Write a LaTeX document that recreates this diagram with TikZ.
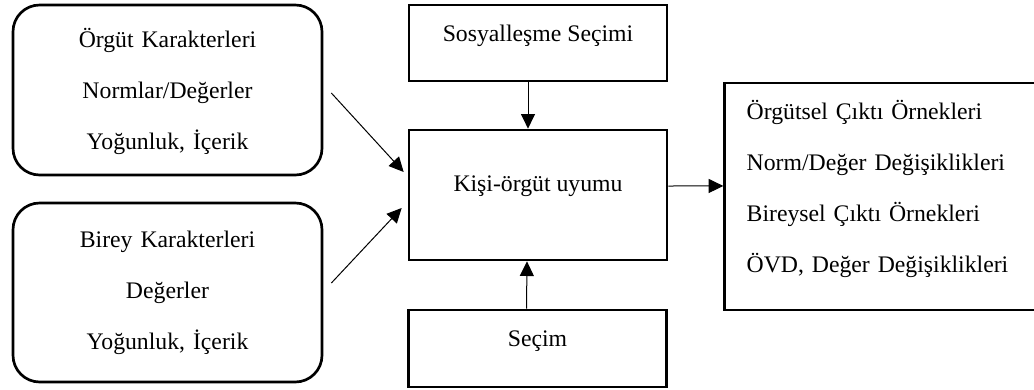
\documentclass[tikz,border=0pt]{standalone}
\usepackage{fontspec}
\setmainfont{Liberation Serif}
\usetikzlibrary{arrows.meta}
\newcommand{\boxFont}[0]{\fontsize{17.8}{38.3}\selectfont}

\begin{document}
\begin{tikzpicture}[x=0.75pt, y=-0.75pt, >={Triangle[length=11pt,width=10.5pt]}]
  \tikzset{plain box/.style={draw, line width=2pt, align=center, font=\boxFont, inner sep=0pt, text height=12pt},
    round box/.style={plain box, rounded corners=20pt, minimum width=231.75pt, text width=200pt},
    mid box/.style={plain box, minimum width=193.5pt},
    link/.style={->, line width=0.75pt}}
  \useasboundingbox (0,0) rectangle (1034,389);
  % left side
  \node[round box, minimum height=127.5pt, text depth=75.4pt] (org) at (167.5,90)
    {Örgüt Karakterleri\\Normlar/Değerler\\Yoğunluk, İçerik};
  \node[round box, minimum height=134.25pt, text depth=80.2pt] (birey) at (167.5,292.5)
    {Birey Karakterleri\\Değerler\\Yoğunluk, İçerik};
  % middle column
  \node[mid box, minimum height=57pt, text depth=14pt] (sosyal) at (538,43) {Sosyalleşme Seçimi};
  \node[mid box, minimum height=97.5pt, text depth=17pt] (kisi) at (538,195) {Kişi-örgüt uyumu};
  \node[mid box, minimum height=57.75pt, text depth=15pt] (secim) at (537.5,348.5) {Seçim};
  % right side, runs past the edge
  \node[plain box, align=left, minimum width=260pt, minimum height=170.25pt, text width=227pt,
    inner xsep=16.5pt, text depth=128pt] (cikti) at (898,196.5)
    {Örgütsel Çıktı Örnekleri\\Norm/Değer Değişiklikleri\\Bireysel Çıktı Örnekleri\\ÖVD, Değer Değişiklikleri};
  \draw[link] ([xshift=6pt,yshift=-2.25pt]org.east) -- ([xshift=-3pt,yshift=17.25pt]kisi.west);
  \draw[link] ([xshift=6pt,yshift=7.1pt]birey.east) -- ([xshift=-4.5pt,yshift=-9.75pt]kisi.west);
  \draw[link] ([xshift=-7.5pt]sosyal.south) -- ([xshift=-7.5pt]kisi.north);
  \draw[link] ([xshift=-8.25pt]secim.north) -- ([xshift=-8.25pt]kisi.south);
  \draw[link] ([yshift=6.75pt]kisi.east) -- ([yshift=7.9pt]cikti.west);
\end{tikzpicture}
\end{document}
